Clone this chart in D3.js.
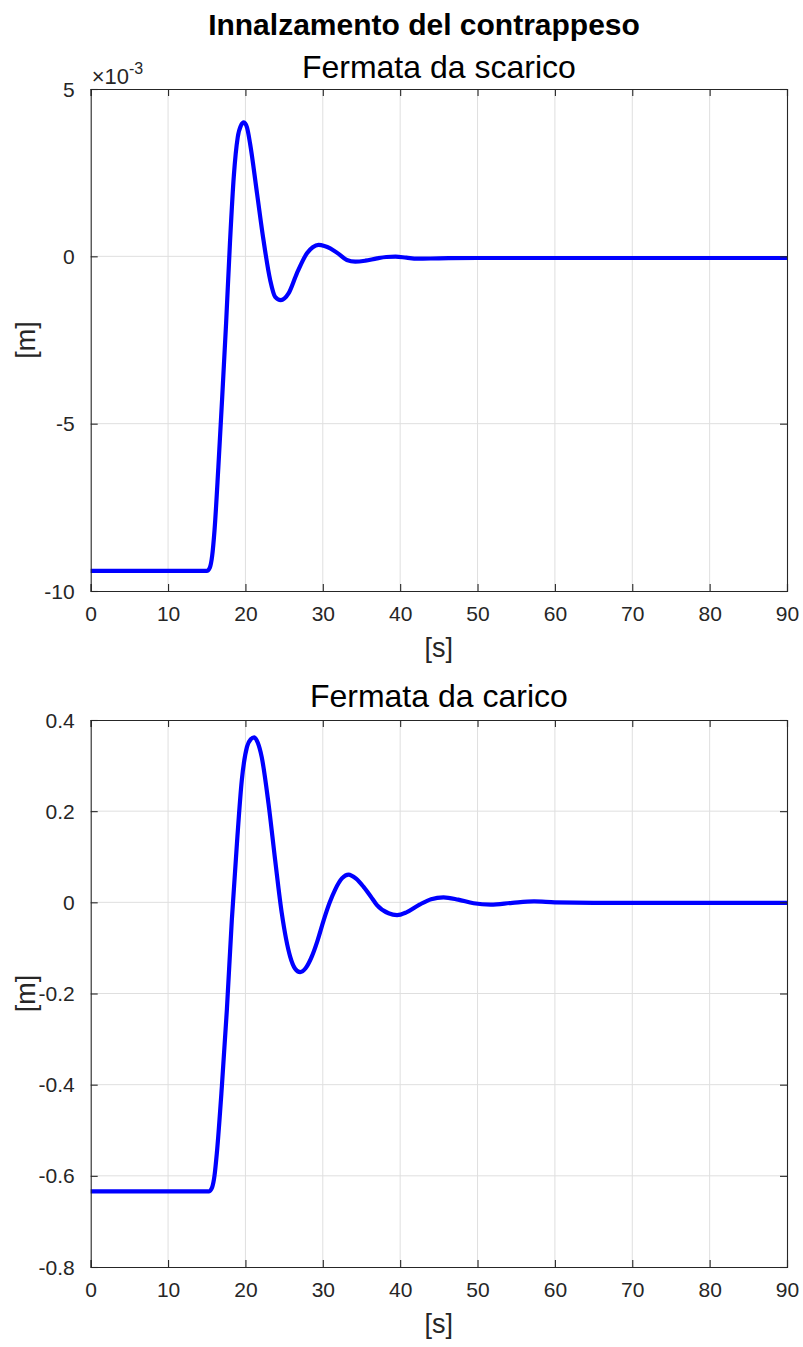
<!DOCTYPE html>
<html>
<head>
<meta charset="utf-8">
<script src="https://cdn.jsdelivr.net/npm/d3@7"></script>
<style>
  html, body { margin: 0; padding: 0; background: #fff; }
  svg { display: block; font-family: "Liberation Sans", Arial, Helvetica, sans-serif; }
</style>
</head>
<body>
<svg id="fig" width="803" height="1347"></svg>
<script>
// Counterweight displacement after the stop, two load cases.
const xTicks = [0, 10, 20, 30, 40, 50, 60, 70, 80, 90];

// Case 1: unloaded stop (values in units of 1e-3 m)
const unloadedTime = [0, 15.0, 15.4, 15.7, 16.0, 16.5, 17.0, 17.5, 18.0, 18.5, 19.0, 19.4, 19.8,
  20.2, 20.6, 21.5, 22.33, 23.2, 23.84, 24.58, 25.57, 26.65, 27.95, 28.7, 29.45, 30.2, 30.96,
  32.0, 33.1, 34.2, 35.5, 37.0, 38.2, 39.4, 40.8, 42.2, 45, 50, 60, 70, 80, 90];
const unloadedValue = [-9.40, -9.40, -9.30, -8.95, -8.20, -6.30, -4.20, -2.00, 0.40, 2.40, 3.55, 3.90, 4.00,
  3.85, 3.37, 1.88, 0.49, -0.71, -1.21, -1.31, -1.11, -0.51, 0.09, 0.27, 0.34, 0.31, 0.24,
  0.08, -0.11, -0.16, -0.13, -0.06, -0.02, -0.01, -0.04, -0.07, -0.06, -0.05, -0.05, -0.05, -0.05, -0.05];
const unloadedYTicks = [-10, -5, 0, 5];

// Case 2: loaded stop (values in m)
const loadedTime = [0, 15.3, 15.7, 16.0, 16.3, 16.95, 17.6, 18.24, 18.9, 19.53, 20.2, 20.7, 21.13,
  21.6, 22.1, 22.98, 23.84, 24.7, 25.78, 26.4, 27.07, 27.8, 28.6, 29.3, 30.1, 30.9, 31.6, 32.5, 33.33,
  34.3, 35.27, 36.2, 37.0, 38.5, 39.6, 40.8, 42.5, 44.0, 45.6, 47.5, 49.5, 51.7, 54.5, 57.3,
  60, 65, 70, 80, 90];
const loadedValue = [-0.634, -0.634, -0.625, -0.600, -0.551, -0.405, -0.236, -0.039, 0.129, 0.268, 0.341, 0.358, 0.362,
  0.350, 0.319, 0.217, 0.093, -0.024, -0.119, -0.145, -0.153, -0.144, -0.118, -0.085, -0.040, 0.000, 0.028, 0.053, 0.061,
  0.052, 0.034, 0.013, -0.006, -0.024, -0.028, -0.022, -0.005, 0.007, 0.011, 0.006, -0.002, -0.005, -0.001, 0.002,
  0.000, -0.001, -0.001, -0.001, -0.001];
const loadedYTicks = [-0.8, -0.6, -0.4, -0.2, 0, 0.2, 0.4];

const svg = d3.select("#fig");
const INK = "#262626";
const GRID = "#dfdfdf";
const TICK_FONT = 21;

svg.append("rect").attr("width", 803).attr("height", 1347).attr("fill", "#fff");

svg.append("text")
  .attr("x", 424).attr("y", 35)
  .attr("text-anchor", "middle")
  .attr("font-size", 30).attr("font-weight", "bold").attr("fill", "#000")
  .text("Innalzamento del contrappeso");

function drawPanel(opt) {
  const x = d3.scaleLinear().domain([0, 90]).range([opt.left, opt.right]);
  const y = d3.scaleLinear().domain(opt.yDomain).range([opt.bottom, opt.top]);
  const g = svg.append("g");

  // grid
  g.append("g").selectAll("line").data(xTicks.slice(1, -1)).join("line")
    .attr("x1", d => x(d)).attr("x2", d => x(d))
    .attr("y1", opt.top).attr("y2", opt.bottom)
    .attr("stroke", GRID).attr("stroke-width", 1);
  g.append("g").selectAll("line").data(opt.yTicks.slice(1, -1)).join("line")
    .attr("x1", opt.left).attr("x2", opt.right)
    .attr("y1", d => y(d)).attr("y2", d => y(d))
    .attr("stroke", GRID).attr("stroke-width", 1);

  // curve
  const line = d3.line()
    .x((d, i) => x(opt.time[i]))
    .y(d => y(d))
    .curve(d3.curveMonotoneX);
  g.append("path")
    .attr("d", line(opt.values))
    .attr("fill", "none")
    .attr("stroke", "#0000ff")
    .attr("stroke-width", 4.2)
    .attr("stroke-linejoin", "round");

  // axes with inward ticks on all four sides
  const tk = 7;
  const bottomAx = g.append("g").attr("transform", `translate(0,${opt.bottom})`)
    .call(d3.axisBottom(x).tickValues(xTicks).tickSize(-tk).tickFormat(d3.format("d")));
  bottomAx.selectAll("text").attr("y", 30).attr("dy", 0);
  const topAx = g.append("g").attr("transform", `translate(0,${opt.top})`)
    .call(d3.axisTop(x).tickValues(xTicks).tickSize(-tk).tickFormat(""));
  const leftAx = g.append("g").attr("transform", `translate(${opt.left},0)`)
    .call(d3.axisLeft(y).tickValues(opt.yTicks).tickSize(-tk).tickPadding(9 + tk).tickFormat(opt.fmt));
  const rightAx = g.append("g").attr("transform", `translate(${opt.right},0)`)
    .call(d3.axisRight(y).tickValues(opt.yTicks).tickSize(-tk).tickFormat(""));

  [bottomAx, topAx, leftAx, rightAx].forEach(a => {
    a.select(".domain").attr("stroke", INK).attr("stroke-width", 1.1);
    a.selectAll(".tick line").attr("stroke", INK).attr("stroke-width", 1.1);
    a.selectAll("text").attr("fill", INK).attr("font-size", TICK_FONT)
      .attr("font-family", "Liberation Sans, Arial, sans-serif");
  });
  leftAx.selectAll("text").attr("dy", "0.34em");

  // titles and labels
  const cx = (opt.left + opt.right) / 2;
  svg.append("text").attr("x", cx).attr("y", opt.titleY)
    .attr("text-anchor", "middle").attr("font-size", 32).attr("fill", "#000")
    .text(opt.title);
  svg.append("text").attr("x", cx).attr("y", opt.bottom + 66)
    .attr("text-anchor", "middle").attr("font-size", 27).attr("fill", INK)
    .text("[s]");
  svg.append("text")
    .attr("transform", `translate(35,${(opt.top + opt.bottom) / 2}) rotate(-90)`)
    .attr("text-anchor", "middle").attr("font-size", 27).attr("fill", INK)
    .text("[m]");

  if (opt.exponent) {
    const t = svg.append("text").attr("x", opt.left + 1).attr("y", opt.top - 5)
      .attr("font-size", 22).attr("fill", INK);
    t.append("tspan").text("\u00d710");
    t.append("tspan").attr("font-size", 16).attr("dy", -10).text(opt.exponent);
  }
}

const fmtSigned = d => (d < 0 ? "-" : "") + d3.format("")(Math.abs(d));

drawPanel({
  left: 90.7, right: 787, top: 89, bottom: 591,
  yDomain: [-10, 5], yTicks: unloadedYTicks,
  time: unloadedTime, values: unloadedValue,
  fmt: fmtSigned, title: "Fermata da scarico", titleY: 78, exponent: "-3"
});

drawPanel({
  left: 90.7, right: 787, top: 720, bottom: 1267,
  yDomain: [-0.8, 0.4], yTicks: loadedYTicks,
  time: loadedTime, values: loadedValue,
  fmt: d => (d < 0 ? "-" : "") + d3.format(".1~f")(Math.abs(d)),
  title: "Fermata da carico", titleY: 707
});
</script>
</body>
</html>
